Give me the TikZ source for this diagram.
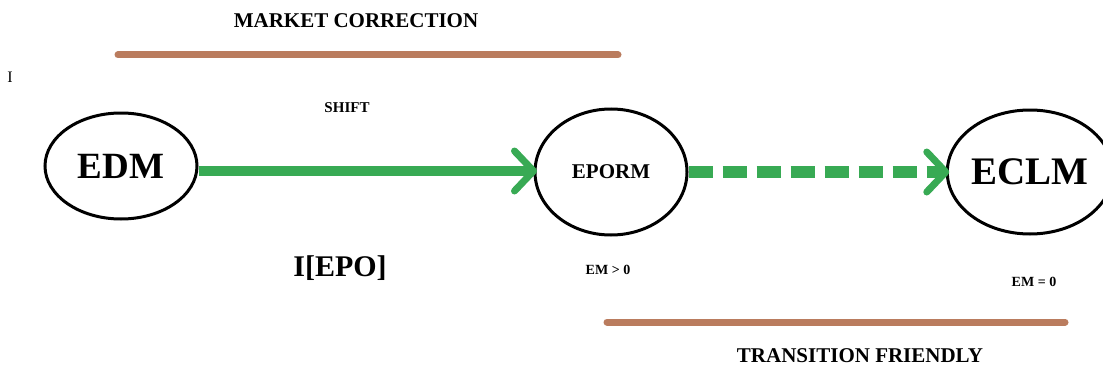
\documentclass[tikz,border=0pt]{standalone}
\usepackage{fontspec}
\setmainfont{Liberation Serif}
\usetikzlibrary{shapes.geometric}
\definecolor{arrowgreen}{RGB}{56,170,84}
\definecolor{barbrown}{RGB}{186,124,94}
\tikzset{
  x=1pt, y=1pt,
  statebox/.style={draw=black, ellipse, line width=3pt, inner sep=0pt, font=\bfseries},
  labeltext/.style={font=\bfseries, inner sep=0pt},
  bar/.style={draw=barbrown, line width=7pt, line cap=round},
  flow/.style={draw=arrowgreen, line width=10pt},
  barb/.style={draw=arrowgreen, line width=7pt, line cap=round, line join=round},
}
\begin{document}
\begin{tikzpicture}
\useasboundingbox (0,0) rectangle (1103,-369);
% top label and bar
\node[labeltext, font=\fontsize{21}{24}\selectfont\bfseries] (mc) at (356,-21) {MARKET CORRECTION};
\coordinate (mcL) at (118,-55);
\coordinate (mcR) at (618,-55);
\draw[bar] (mcL) -- (mcR);
\node[inner sep=0pt, font=\fontsize{16}{18}\selectfont] (tick) at (10,-77) {I};
\node[labeltext, font=\fontsize{15}{18}\selectfont\bfseries] (shift) at (347,-108) {SHIFT};
% states
\node[statebox, minimum width=152pt, minimum height=106pt, font=\fontsize{37}{40}\selectfont\bfseries] (edm) at (121,-166) {EDM};
\node[statebox, minimum width=152pt, minimum height=126pt, font=\fontsize{21}{24}\selectfont\bfseries] (eporm) at (611,-172) {EPORM};
\node[statebox, minimum width=146pt, minimum height=124pt, font=\fontsize{39}{42}\selectfont\bfseries] (eclm) at (1030,-172) {ECLM};
% arrows
\coordinate (a1s) at (edm.east |- 0,-171);
\coordinate (a1e) at (eporm.west |- 0,-171);
\draw[flow] (a1s) -- ([xshift=-3pt]a1e);
\draw[barb] ([shift={(-19,20)}]a1e) -- (a1e) -- ([shift={(-19,-20)}]a1e);
\coordinate (a2s) at (eporm.east |- 0,-172);
\coordinate (a2e) at (eclm.west |- 0,-172);
\draw[flow, line width=12pt, dash pattern=on 24pt off 10pt] (a2s) -- ([xshift=-4pt]a2e);
\draw[barb] ([shift={(-19,20)}]a2e) -- (a2e) -- ([shift={(-19,-20)}]a2e);
% labels below
\node[labeltext, font=\fontsize{30}{34}\selectfont\bfseries] (iepo) at (340,-268) {I[EPO]};
\node[labeltext, font=\fontsize{14}{16}\selectfont\bfseries] (emg) at (608,-270) {EM > 0};
\node[labeltext, font=\fontsize{14}{16}\selectfont\bfseries] (eme) at (1034,-282) {EM = 0};
% bottom bar and label
\coordinate (tfL) at (607,-322);
\coordinate (tfR) at (1065,-322);
\draw[bar] (tfL) -- (tfR);
\node[labeltext, font=\fontsize{21}{24}\selectfont\bfseries] (tf) at (860,-356) {TRANSITION FRIENDLY};
\end{tikzpicture}
\end{document}
